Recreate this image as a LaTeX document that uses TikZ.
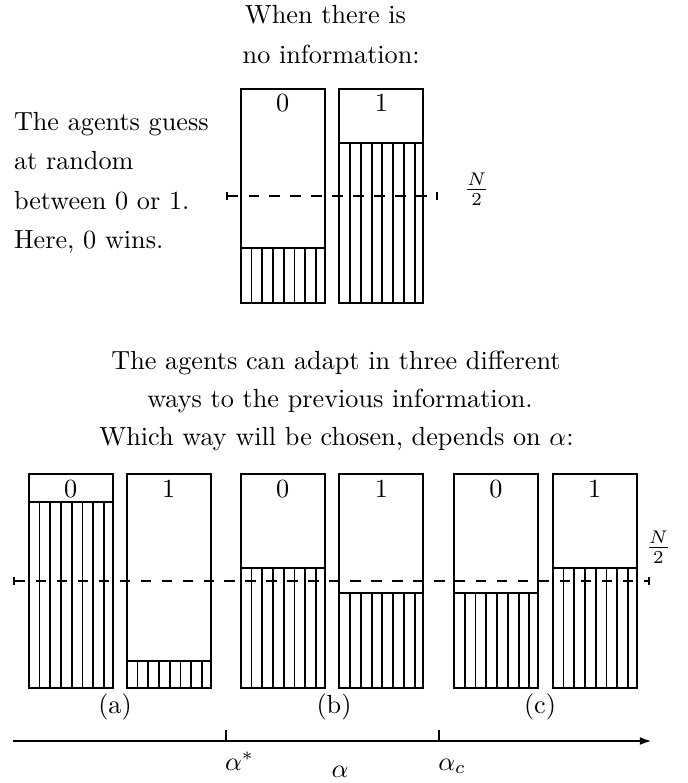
\documentclass[tikz,border=0pt]{standalone}
\usetikzlibrary{arrows.meta}
\newcommand\agentbox[4]{%
  \draw[hatchline] \foreach \k in {1,...,7} {(#1+\k*10.77,#2) -- (#1+\k*10.77,#4+213.7)};
  \draw[boxline] (#1,#4) rectangle (#1+84,#4+213.7);
  \draw[boxline] (#1,#2) -- (#1+84,#2);
  \node[txt,anchor=base] at (#1+42,#4+23) {#3};
}
\begin{document}
\begin{tikzpicture}[x=0.3817pt,y=-0.3817pt,
  boxline/.style={line width=0.85pt},
  hatchline/.style={line width=0.7pt},
  dashline/.style={line width=0.8pt,dash pattern=on 4pt off 4pt},
  axisline/.style={line width=0.75pt},
  txt/.style={inner sep=0pt,outer sep=0pt}]
\useasboundingbox (0,0) rectangle (687,783);
% titles
\node[txt,anchor=base] (t1) at (325.5,24) {When there is};
\node[txt,anchor=base] (t2) at (331.2,63.3) {no information:};
\node[txt,anchor=base west] (l1) at (14,130.7) {The agents guess};
\node[txt,anchor=base west] (l2) at (14,170) {at random};
\node[txt,anchor=base west] (l3) at (14,209.3) {between 0 or 1.};
\node[txt,anchor=base west] (l4) at (14,248.6) {Here, 0 wins.};
\node[txt,anchor=base] (m1) at (336,369) {The agents can adapt in three different};
\node[txt,anchor=base] (m2) at (340,407) {ways to the previous information.};
\node[txt,anchor=base] (m3) at (336.5,445) {Which way will be chosen, depends on $\alpha$:};
% top boxes
\agentbox{240.7}{248.3}{0}{89}
\agentbox{339.3}{142.7}{1}{89}
\coordinate (ds1) at (226,196);
\coordinate (de1) at (438.3,196);
\draw[dashline,{Bar[width=3.2pt]}-{Bar[width=3.2pt]}] (ds1) -- (de1);
\node[txt,anchor=base] (n1) at (476.7,196) {$\frac{N}{2}$};
% bottom boxes
\agentbox{28.7}{501.7}{0}{474}
\agentbox{126.7}{660.7}{1}{474}
\agentbox{240.7}{567.7}{0}{474}
\agentbox{339.3}{593.3}{1}{474}
\agentbox{454}{593.3}{0}{474}
\agentbox{552.7}{567.7}{1}{474}
\coordinate (ds2) at (13.3,581);
\coordinate (de2) at (650,581);
\draw[dashline,{Bar[width=3.2pt]}-{Bar[width=3.2pt]}] (ds2) -- (de2);
\node[txt,anchor=base] (n2) at (658.3,554) {$\frac{N}{2}$};
\node[txt,anchor=base] (la) at (115,713) {(a)};
\node[txt,anchor=base] (lb) at (334,713) {(b)};
\node[txt,anchor=base] (lc) at (540,713) {(c)};
% axis
\coordinate (as) at (13.3,741);
\coordinate (ae) at (651.7,741);
\coordinate (k1) at (226,741);
\coordinate (k2) at (438.7,741);
\draw[axisline,-{Latex[length=4.5pt,width=3pt]}] (as) -- (ae);
\draw[axisline] (k1) -- ++(0,-11);
\draw[axisline] (k2) -- ++(0,-11);
\node[txt,anchor=base west] (a1) at (225,770) {$\alpha^*$};
\node[txt,anchor=base west] (a2) at (438.3,770) {$\alpha_c$};
\node[txt,anchor=base] (a3) at (340,777) {$\alpha$};
\end{tikzpicture}
\end{document}
